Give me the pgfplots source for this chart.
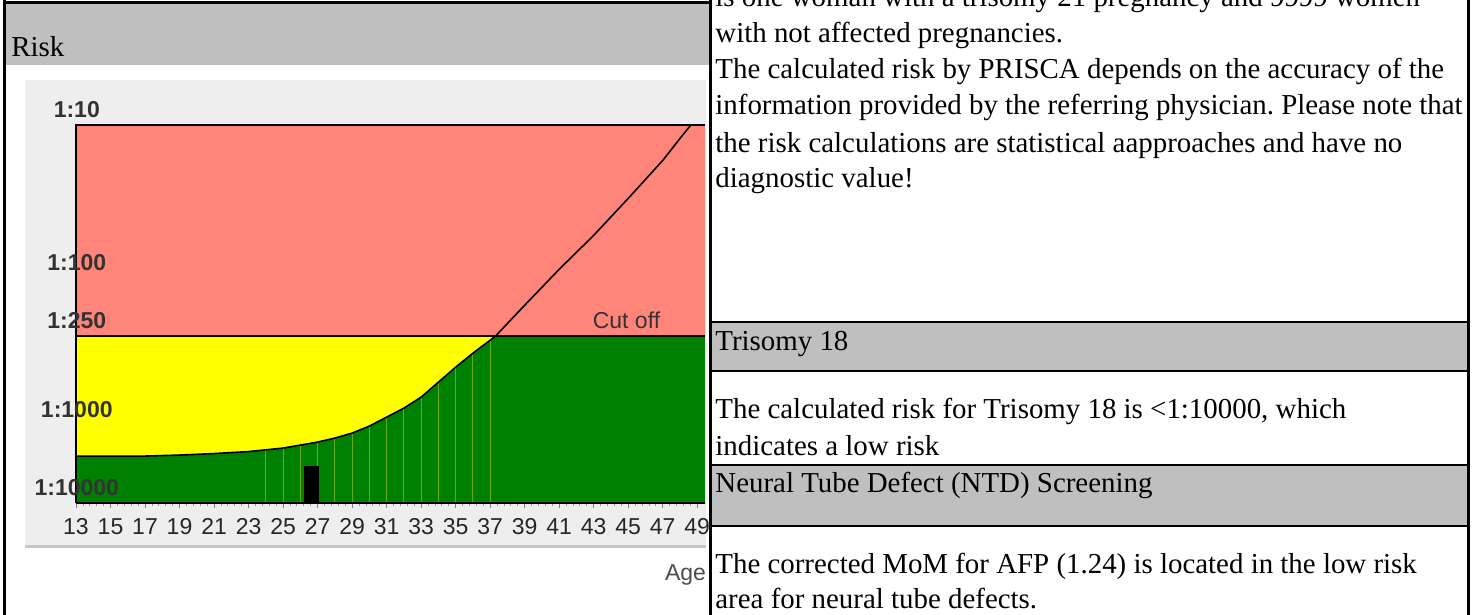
\documentclass[border=0pt]{standalone}
\usepackage{fontspec}
\setmainfont{Liberation Serif}
\newfontfamily\arialf{Liberation Sans}
\usepackage{pgfplots}
\usepackage{pgfplotstable}
\pgfplotsset{compat=1.18}

\definecolor{riskred}{RGB}{255,133,122}
\definecolor{riskyellow}{RGB}{255,255,0}
\definecolor{riskgreen}{RGB}{0,128,0}
\definecolor{gridgreen}{RGB}{105,170,15}
\definecolor{panelgrey}{RGB}{238,238,238}
\definecolor{hdrgrey}{RGB}{191,191,191}

% risk curve: age vs. position on the risk scale (0 = 1:10000, 379 = 1:10)
\pgfplotstableread{
age risk
13 47
15 47
17 47
19 48
21 49.5
23 51.5
25 55
27 61
28 65
29 70
30 77
31 86
32 95
33 106
34 121
35 136
36 150
37 163
37.3 167
39 198
41 234
43 268
45 305
47 343
48 365
48.65 379
}\riskcurve

\pgfplotstableread{
age risk
13 47
15 47
17 47
19 48
21 49.5
23 51.5
25 55
27 61
28 65
29 70
30 77
31 86
32 95
33 106
34 121
35 136
36 150
37 163
37.3 167
13 167
}\yellowzone

\pgfplotstableread{
age risk
24 53
25 55
26 58
27 61
28 65
29 70
30 77
31 86
32 95
33 106
34 121
35 136
36 150
37 163
}\gridlines

\newcommand\serifsz{\fontsize{14.45}{18}\selectfont}
\newcommand\sanssz{\arialf\fontsize{11.5}{13}\selectfont}

\begin{document}
\frenchspacing
\begin{tikzpicture}
\useasboundingbox (0pt,0pt) rectangle (741pt,-307.5pt);
\clip (0pt,0pt) rectangle (741pt,-307.5pt);
\begin{scope}[x=0.5pt,y=-0.5pt]
\fill[white] (0,0) rectangle (1482,615);
\fill[hdrgrey] (5,4) rectangle (710,65);
\node[anchor=base west, inner sep=0, font=\serifsz] at (11,57) {Risk};
\fill[panelgrey] (25,80) rectangle (706,545);
\fill[black!22] (25,545) rectangle (706,548);
\coordinate (plotorigin) at (76,503);
\end{scope}

\begin{axis}[
  at={(plotorigin)}, anchor=south west,
  width=314.5pt, height=189.25pt, scale only axis,
  xmin=13, xmax=49.45, ymin=0, ymax=379,
  axis x line=bottom, axis y line=left, axis line style={-},
  x axis line style={black, line width=0.8pt},
  y axis line style={black, line width=1.1pt},
  axis on top,
  xtick={13,15,...,49}, minor x tick num=4,
  tick align=outside,
  major tick length=2.6pt, minor tick length=1.6pt,
  xtick style={black!50, line width=0.5pt},
  minor x tick style={black!40, line width=0.4pt},
  ytick={0,78,167,226,379},
  yticklabels={1:10000,1:1000,1:250,1:100,1:10},
  ytick style={draw=none},
  yticklabel style={anchor=south, xshift=3pt, font=\sanssz\bfseries, text=black!80},
  xticklabel style={font=\sanssz, text=black!85, yshift=-1.5pt},
  /pgf/number format/assume math mode=true,
  xlabel={Age},
  xlabel style={at={(axis description cs:1,0)}, anchor=east, yshift=-36pt, xshift=4pt, font=\sanssz, text=black!70},
]
\addplot[fill=riskred, draw=none] coordinates {(13,0) (49.45,0) (49.45,379) (13,379)};
\addplot[fill=riskgreen, draw=none] coordinates {(13,0) (49.45,0) (49.45,167) (13,167)};
\addplot[fill=riskyellow, draw=none] table[x=age, y=risk] {\yellowzone};
\addplot[ycomb, draw=gridgreen, line width=0.5pt] table[x=age, y=risk] {\gridlines};
\addplot[ybar, bar width=0.87, fill=black, draw=none] coordinates {(26.65,37)};
\addplot[black, line width=0.8pt] coordinates {(13,167) (49.45,167)};
\addplot[black, line width=0.8pt] table[x=age, y=risk] {\riskcurve};
\addplot[black, line width=1.2pt] coordinates {(13,379) (49.45,379)};
\node[anchor=south, font=\sanssz, text=black!80] at (axis cs:44.9,167) {Cut off};
\end{axis}

\begin{scope}[x=0.5pt,y=-0.5pt]
\fill[white] (712,0) rectangle (1482,615);
\fill[hdrgrey] (712,322) rectangle (1468,371);
\fill[hdrgrey] (712,465) rectangle (1468,526);
\foreach \yy in {322,371,465,526} {\draw[line width=1.25pt] (711,\yy) -- (1469,\yy);}
\draw[line width=1.5pt] (710.5,0) -- (710.5,615);
\draw[line width=1.5pt] (1468.5,0) -- (1468.5,615);
\draw[line width=1.5pt] (4.5,0) -- (4.5,615);
\draw[line width=1.75pt] (3,2.5) -- (711,2.5);
\begin{scope}[every node/.style={anchor=base west, inner sep=0, font=\serifsz}]
\node at (715,7) {is one woman with a trisomy 21 pregnancy and 9999 women};
\node at (715,43) {with not affected pregnancies.};
\node at (715,79) {The calculated risk by PRISCA depends on the accuracy of the};
\node at (715,115) {information provided by the referring physician. Please note that};
\node at (715,152) {the risk calculations are statistical aapproaches and have no};
\node at (715,187) {diagnostic value!};
\node at (715,350) {Trisomy 18};
\node at (715,418) {The calculated risk for Trisomy 18 is <1:10000, which};
\node at (715,455) {indicates a low risk};
\node at (715,492) {Neural Tube Defect (NTD) Screening};
\node at (715,573) {The corrected MoM for AFP (1.24) is located in the low risk};
\node at (715,608) {area for neural tube defects.};
\end{scope}
\end{scope}
\end{tikzpicture}
\end{document}
